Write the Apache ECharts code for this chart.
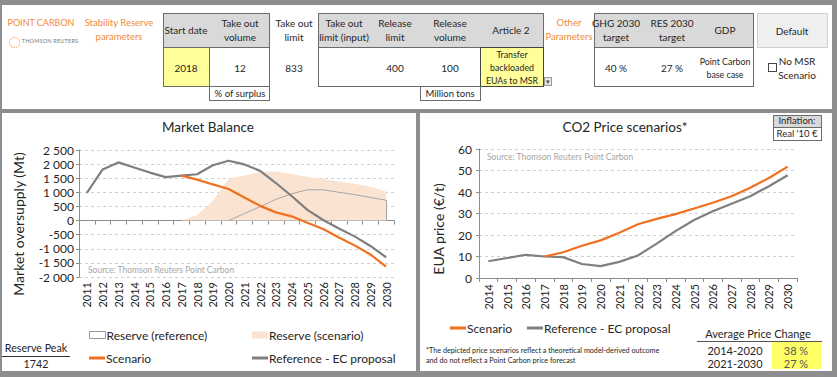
<!DOCTYPE html>
<html>
<head>
<meta charset="utf-8">
<script src="https://cdn.jsdelivr.net/npm/echarts@6.0.0/dist/echarts.min.js"></script>
<style>
html,body{margin:0;padding:0;}
body{width:837px;height:377px;background:#8e8e90;position:relative;overflow:hidden;font-family:Lato,"Open Sans",sans-serif;color:#262626;}
.p{position:absolute;background:#fff;}
.b{position:absolute;box-sizing:border-box;border:1px solid #6b6b6b;background:#fff;}
.g{background:#d9d9d9;}
.y{background:#ffff99;}
.t{position:absolute;white-space:nowrap;transform:translate(-50%,-50%);font-size:10px;line-height:1;}
.o{color:#f08a3a;font-size:9.5px;}
#chart{position:absolute;left:0;top:0;width:837px;height:377px;}
</style>
</head>
<body>
<div class="p" style="left:2px;top:5px;width:830px;height:104px"></div>
<div class="p" style="left:2px;top:113px;width:414px;height:258px"></div>
<div class="p" style="left:420px;top:113px;width:412px;height:258px"></div>

<!-- header boxes -->
<div class="b" style="left:163px;top:13px;width:107px;height:74px"></div>
<div class="b g" style="left:163px;top:13px;width:107px;height:35px"></div>
<div class="b y" style="left:163px;top:47px;width:47px;height:40px"></div>
<div class="b" style="left:209px;top:86px;width:61px;height:15px"></div>

<div class="b" style="left:318px;top:13px;width:226px;height:74px"></div>
<div class="b g" style="left:318px;top:13px;width:226px;height:35px"></div>
<div class="b y" style="left:480px;top:47px;width:64px;height:40px;border-color:#444"></div>
<div class="b" style="left:544px;top:77px;width:8px;height:9px;background:#e6e6e6;border-color:#999"></div>
<div class="b" style="left:420px;top:86px;width:61px;height:15px"></div>

<div class="b" style="left:594px;top:13px;width:160px;height:74px"></div>
<div class="b g" style="left:594px;top:13px;width:160px;height:35px"></div>
<div class="b" style="left:757px;top:13px;width:71px;height:35px;background:#efefef;border-color:#d0d0d0"></div>
<div class="b" style="left:768px;top:63px;width:9px;height:9px;border-color:#444"></div>

<div style="position:absolute;left:9px;top:37px;width:9px;height:9px;border:1.5px dotted #f08a3a;border-radius:50%"></div>

<!-- lower panel boxes -->
<div style="position:absolute;left:2px;top:356px;width:68px;height:1px;background:#333"></div>
<div class="b g" style="left:773px;top:115px;width:49px;height:13px"></div>
<div class="b" style="left:773px;top:127px;width:49px;height:14px"></div>
<div style="position:absolute;left:697px;top:341px;width:125px;height:1px;background:#555"></div>
<div style="position:absolute;left:772px;top:342px;width:49px;height:27px;background:#ffff66"></div>

<div id="labels"></div>
<div id="chart"></div>

<script>
// Market balance, Mt
const balanceYears = ['2011','2012','2013','2014','2015','2016','2017','2018','2019','2020','2021','2022','2023','2024','2025','2026','2027','2028','2029','2030'];
const refBalance = [980, 1810, 2060, 1880, 1700, 1540, 1590, 1640, 1960, 2120, 1990, 1760, 1330, 870, 380, 20, -280, -560, -900, -1300];
const scenBalance = [null, null, null, null, null, null, 1590, 1450, 1280, 1120, 820, 520, 290, 150, -80, -300, -600, -880, -1200, -1630];
const reserveScen = [null, null, null, null, null, null, 0, 200, 700, 1480, 1600, 1720, 1742, 1650, 1550, 1470, 1380, 1300, 1200, 1030];
const reserveRef = [null, null, null, null, null, null, null, null, null, 0, 250, 490, 750, 950, 1090, 1090, 1000, 920, 820, 720];
const balanceTicks = { min: -2000, max: 2500, step: 500 };

// CO2 price, EUR/t
const priceYears = ['2014','2015','2016','2017','2018','2019','2020','2021','2022','2023','2024','2025','2026','2027','2028','2029','2030'];
const refPrice = [7.8, 9.3, 10.8, 10.0, 9.7, 6.5, 5.5, 7.5, 10.5, 16, 21.8, 27, 31, 34.5, 38, 42.7, 47.8];
const scenPrice = [null, null, null, 10.0, 12, 15, 17.5, 21, 25, 27.5, 29.7, 32.3, 35, 38, 42, 46.5, 51.8];
const priceTicks = { min: 0, max: 60, step: 10 };

const ORANGE = '#f0701f';
const GREY = '#7f7f7f';
const PEACH = '#fbe3d2';
const FONT = 'Lato, "Open Sans", sans-serif';

// static texts of the dashboard
const texts = [
  ['POINT CARBON', 41, 22, 'font-size:9px', 'o'],
  ['THOMSON REUTERS', 50, 42, 'font-size:5.5px;color:#777;letter-spacing:0.2px'],
  ['Stability Reserve', 119, 23, '', 'o'],
  ['parameters', 119, 37, '', 'o'],
  ['Start date', 186, 30],
  ['Take out', 240, 23], ['volume', 240, 37],
  ['2018', 186, 68], ['12', 240, 68],
  ['% of surplus', 240, 94, 'font-size:9.5px'],
  ['Take out', 294, 23], ['limit', 294, 37], ['833', 294, 68],
  ['Take out', 344, 23], ['limit (input)', 344, 37],
  ['Release', 395, 23], ['limit', 395, 37], ['400', 395, 68],
  ['Release', 450, 23], ['volume', 450, 37], ['100', 450, 68],
  ['Article 2', 511, 30],
  ['Transfer', 512, 55, 'font-size:8.8px'], ['backloaded', 512, 68, 'font-size:8.8px'], ['EUAs to MSR', 512, 81, 'font-size:8.8px'],
  ['▾', 548, 81, 'font-size:7px;color:#444'],
  ['Million tons', 450, 94, 'font-size:9.5px'],
  ['Other', 569, 23, '', 'o'], ['Parameters', 569, 37, '', 'o'],
  ['GHG 2030', 616, 23], ['target', 616, 37], ['40 %', 616, 68],
  ['RES 2030', 672, 23], ['target', 672, 37], ['27 %', 672, 68],
  ['GDP', 725, 30],
  ['Point Carbon', 725, 62, 'font-size:8.8px'], ['base case', 725, 75, 'font-size:8.8px'],
  ['Default', 792, 31],
  ['No MSR', 797, 61], ['Scenario', 797, 75],
  ['Reserve Peak', 36, 348, 'font-size:10.7px'],
  ['1742', 36, 364, 'font-size:10.7px'],
  ['Inflation:', 797, 121, 'font-size:9.5px'],
  ["Real '10 €", 797, 134, 'font-size:9.5px'],
  ['Average Price Change', 758, 333, 'font-size:11px'],
  ['2014-2020', 735, 350, 'font-size:11px'], ['38 %', 796, 350, 'font-size:11px;color:#555'],
  ['2021-2030', 735, 363, 'font-size:11px'], ['27 %', 796, 363, 'font-size:11px;color:#555']
];
const holder = document.getElementById('labels');
texts.forEach(function (t) {
  const d = document.createElement('div');
  d.className = 't' + (t[4] ? ' ' + t[4] : '');
  d.style.cssText = 'left:' + t[1] + 'px;top:' + t[2] + 'px;' + (t[3] || '');
  d.textContent = t[0];
  holder.appendChild(d);
});
['*The depicted price scenarios reflect a theoretical model-derived outcome', 'and do not reflect a Point Carbon price forecast'].forEach(function (s, i) {
  const d = document.createElement('div');
  d.style.cssText = 'position:absolute;left:426px;top:' + (347 + i * 10) + 'px;font-size:7.2px;line-height:1;white-space:nowrap;';
  d.textContent = s;
  holder.appendChild(d);
});

function thousands(v) {
  return String(v).replace(/(\d)(?=(\d{3})$)/, '$1 ');
}

const axisGrey = { lineStyle: { color: '#8c8c8c', width: 1 } };
const split = { show: true, lineStyle: { color: '#cfcfcf', type: [3, 3] } };

const chart = echarts.init(document.getElementById('chart'), null, { renderer: 'svg' });
chart.setOption({
  animation: false,
  textStyle: { fontFamily: FONT },
  grid: [
    { left: 79, top: 150, width: 315, height: 127, outerBoundsMode: 'none' },
    { left: 479, top: 149, width: 318, height: 129, outerBoundsMode: 'none' }
  ],
  xAxis: [
    {
      gridIndex: 0, type: 'category', data: balanceYears, position: 'bottom',
      axisLine: { show: false, onZero: false }, axisTick: { show: false },
      axisLabel: { rotate: 90, fontSize: 11, color: '#262626', margin: 5, interval: 0 }
    },
    {
      gridIndex: 0, type: 'category', data: balanceYears, position: 'bottom',
      axisLine: Object.assign({ show: true, onZero: true }, axisGrey),
      axisTick: { show: true, length: 4, interval: 0, lineStyle: { color: '#8c8c8c' } },
      axisLabel: { show: false }
    },
    {
      gridIndex: 1, type: 'category', data: priceYears, position: 'bottom',
      axisLine: axisGrey,
      axisTick: { show: true, length: 4, interval: 0, lineStyle: { color: '#8c8c8c' } },
      axisLabel: { rotate: 90, fontSize: 11, color: '#262626', margin: 6, interval: 0 }
    }
  ],
  yAxis: [
    {
      gridIndex: 0, type: 'value', min: balanceTicks.min, max: balanceTicks.max, interval: balanceTicks.step,
      axisLine: Object.assign({ show: true }, axisGrey),
      axisTick: { show: true, length: 3, lineStyle: { color: '#8c8c8c' } },
      axisLabel: { fontSize: 12, color: '#262626', margin: 5, formatter: thousands },
      splitLine: split
    },
    {
      gridIndex: 1, type: 'value', min: priceTicks.min, max: priceTicks.max, interval: priceTicks.step,
      axisLine: Object.assign({ show: true }, axisGrey),
      axisTick: { show: true, length: 3, lineStyle: { color: '#8c8c8c' } },
      axisLabel: { fontSize: 12, color: '#262626', margin: 7 },
      splitLine: split
    }
  ],
  legend: [
    { left: 89, top: 329, data: [{ name: 'Reserve (reference)', itemStyle: { color: '#fff', borderColor: '#999', borderWidth: 1 } }] },
    { left: 252, top: 329, data: [{ name: 'Reserve (scenario)' }] },
    { left: 89, top: 352, data: ['Scenario'], itemHeight: 3 },
    { left: 252, top: 352, data: ['Reference - EC proposal'], itemHeight: 3 },
    { left: 450, top: 322, data: ['Scenario'], itemHeight: 3 },
    { left: 527, top: 322, data: ['Reference - EC proposal'], itemHeight: 3 }
  ].map(function (l) {
    return Object.assign({
      icon: 'rect', itemWidth: 16, itemHeight: 7, padding: 0, selectedMode: false,
      textStyle: { fontSize: 12, color: '#262626', padding: [0, 0, 0, -4] }
    }, l);
  }),
  graphic: [
    { type: 'text', x: 208, y: 127, style: { text: 'Market Balance', font: '13.5px ' + FONT, fill: '#262626', textAlign: 'center', textVerticalAlign: 'middle' } },
    { type: 'text', x: 625, y: 127, style: { text: 'CO2 Price scenarios*', font: '13.5px ' + FONT, fill: '#262626', textAlign: 'center', textVerticalAlign: 'middle' } },
    { type: 'text', x: 18, y: 224, rotation: Math.PI / 2, style: { text: 'Market oversupply (Mt)', font: '14px ' + FONT, fill: '#262626', textAlign: 'center', textVerticalAlign: 'middle' } },
    { type: 'text', x: 438, y: 229, rotation: Math.PI / 2, style: { text: 'EUA price (€/t)', font: '14px ' + FONT, fill: '#262626', textAlign: 'center', textVerticalAlign: 'middle' } },
    { type: 'text', x: 88, y: 270, style: { text: 'Source: Thomson Reuters Point Carbon', font: '8.5px ' + FONT, fill: '#a6a6a6', textVerticalAlign: 'middle' } },
    { type: 'text', x: 487, y: 157, style: { text: 'Source: Thomson Reuters Point Carbon', font: '8.5px ' + FONT, fill: '#a6a6a6', textVerticalAlign: 'middle' } }
  ],
  series: [
    {
      name: 'Reserve (scenario)', type: 'line', xAxisIndex: 0, yAxisIndex: 0, data: reserveScen,
      symbol: 'none', lineStyle: { width: 0 }, itemStyle: { color: PEACH },
      areaStyle: { color: PEACH, opacity: 1 }, z: 1
    },
    {
      name: 'Reserve (reference)', type: 'line', xAxisIndex: 0, yAxisIndex: 0, data: reserveRef,
      symbol: 'none', lineStyle: { width: 1, color: '#a6a6a6' }, itemStyle: { color: '#a6a6a6' }, z: 2,
      markLine: {
        silent: true, symbol: 'none', label: { show: false },
        lineStyle: { color: '#a6a6a6', width: 1, type: 'solid' },
        data: [[
          { coord: [balanceYears.length - 1, reserveRef[reserveRef.length - 1]] },
          { coord: [balanceYears.length - 1, 0] }
        ]]
      }
    },
    {
      name: 'Scenario', type: 'line', xAxisIndex: 0, yAxisIndex: 0, data: scenBalance,
      symbol: 'none', lineStyle: { width: 2.2, color: ORANGE }, itemStyle: { color: ORANGE }, z: 4
    },
    {
      name: 'Reference - EC proposal', type: 'line', xAxisIndex: 0, yAxisIndex: 0, data: refBalance,
      symbol: 'none', lineStyle: { width: 2.2, color: GREY }, itemStyle: { color: GREY }, z: 3
    },
    {
      name: 'Scenario', type: 'line', xAxisIndex: 2, yAxisIndex: 1, data: scenPrice,
      symbol: 'none', lineStyle: { width: 2.2, color: ORANGE }, itemStyle: { color: ORANGE }, z: 4
    },
    {
      name: 'Reference - EC proposal', type: 'line', xAxisIndex: 2, yAxisIndex: 1, data: refPrice,
      symbol: 'none', lineStyle: { width: 2.2, color: GREY }, itemStyle: { color: GREY }, z: 3
    }
  ]
});
</script>
</body>
</html>
